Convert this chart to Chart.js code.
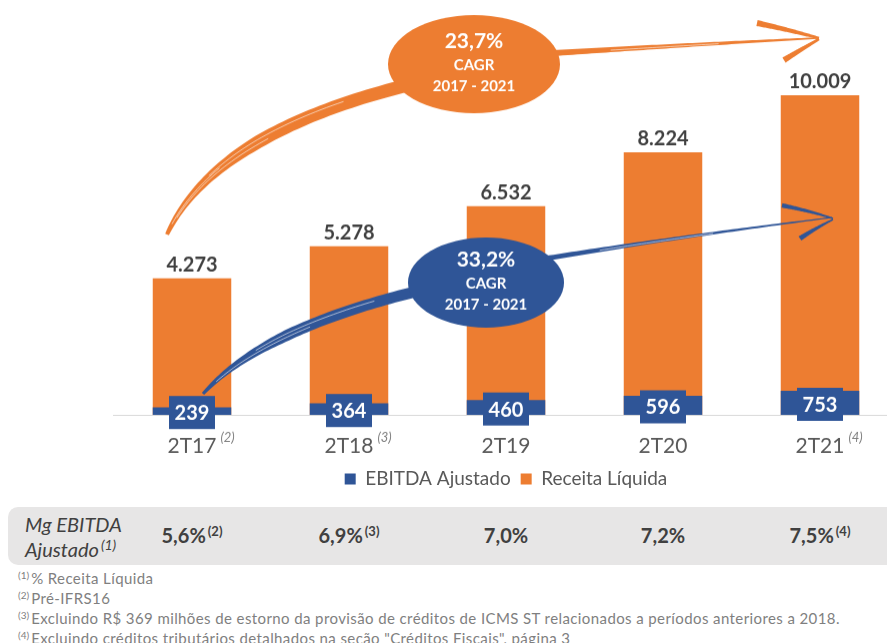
<!DOCTYPE html>
<html lang="pt-BR">
<head>
<meta charset="utf-8">
<script src="https://cdn.jsdelivr.net/npm/chart.js@4.4.0/dist/chart.umd.min.js"></script>
<style>
  html, body { margin: 0; padding: 0; background: #fff; overflow: hidden; width: 887px; height: 643px; font-family: Lato, sans-serif; }
  #chartBox { position: absolute; left: 0; top: 0; width: 910px; height: 497.5px; }
  #mgBox { position: absolute; left: 8px; top: 507px; width: 920px; height: 58px; background: #e7e6e6; border-radius: 10px; }
  .mgTitle { position: absolute; left: 17px; top: 5px; font-style: italic; font-size: 20px; line-height: 25px; color: #404040; white-space: nowrap; }
  .mgVal { position: absolute; top: 16px; font-weight: bold; font-size: 20px; line-height: 24px; color: #404040; transform: translateX(-50%); white-space: nowrap; }
  .sup { font-size: 13px; position: relative; top: -7px; margin-left: 2px; }
  .mgTitle .sup { font-size: 14px; }
  #notes { position: absolute; left: 18px; top: 569px; font-size: 15px; letter-spacing: 0.4px; line-height: 18px; color: #7f7f7f; white-space: nowrap; }
  #notes .fn { font-size: 10px; letter-spacing: 0; position: relative; top: -5px; margin-right: 2px; }
</style>
</head>
<body>
<div id="chartBox"><canvas id="grafico"></canvas></div>
<div id="mgBox">
  <div class="mgTitle">Mg EBITDA<br>Ajustado<span class="sup">(1)</span></div>
</div>
<div id="notes"></div>

<script>
// dados
const categorias = ['2T17', '2T18', '2T19', '2T20', '2T21'];
const notasEixo = ['(2)', '(3)', '', '', '(4)'];
const receitaLiquida = [4273, 5278, 6532, 8224, 10009];
const ebitdaAjustado = [239, 364, 460, 596, 753];
const margemEbitda = ['5,6%', '6,9%', '7,0%', '7,2%', '7,5%'];
const notasMargem = ['(2)', '(3)', '', '', '(4)'];
const cagrReceita = ['23,7%', 'CAGR', '2017 - 2021'];
const cagrEbitda = ['33,2%', 'CAGR', '2017 - 2021'];
const rodape = [
  ['(1)', '% Receita Líquida'],
  ['(2)', 'Pré-IFRS16'],
  ['(3)', 'Excluindo R$ 369 milhões de estorno da provisão de créditos de ICMS ST relacionados a períodos anteriores a 2018.'],
  ['(4)', 'Excluindo créditos tributários detalhados na seção "Créditos Fiscais", página 3']
];

const LARANJA = '#ED7D31';
const AZUL = '#2F5597';
const FONTE = 'Lato, sans-serif';
const TICK_PAD = 18.4;
const TICK_SIZE = 21;

function fmt(v) {
  return String(v).replace(/\B(?=(\d{3})+(?!\d))/g, '.');
}

// traço tipo pincel ao longo de uma curva quadrática
function pincel(ctx, p0, p1, p2, larg, cor, riscos) {
  const n = 60, L = [], R = [], C = [];
  for (let i = 0; i <= n; i++) {
    const t = i / n, u = 1 - t;
    const x = u * u * p0[0] + 2 * u * t * p1[0] + t * t * p2[0];
    const y = u * u * p0[1] + 2 * u * t * p1[1] + t * t * p2[1];
    const dx = 2 * u * (p1[0] - p0[0]) + 2 * t * (p2[0] - p1[0]);
    const dy = 2 * u * (p1[1] - p0[1]) + 2 * t * (p2[1] - p1[1]);
    const len = Math.hypot(dx, dy) || 1;
    const nx = -dy / len, ny = dx / len, h = larg(t) / 2;
    L.push([x + nx * h, y + ny * h]);
    R.push([x - nx * h, y - ny * h]);
    C.push([x, y, nx, ny, h]);
  }
  ctx.beginPath();
  L.forEach((p, i) => i ? ctx.lineTo(p[0], p[1]) : ctx.moveTo(p[0], p[1]));
  R.reverse().forEach(p => ctx.lineTo(p[0], p[1]));
  ctx.closePath();
  ctx.fillStyle = cor;
  ctx.fill();
  // riscos brancos finos para dar textura
  (riscos || []).forEach(r => {
    ctx.beginPath();
    for (let i = Math.round(r.a * n); i <= Math.round(r.b * n); i++) {
      const c = C[i];
      const x = c[0] + c[2] * c[4] * r.k, y = c[1] + c[3] * c[4] * r.k;
      i === Math.round(r.a * n) ? ctx.moveTo(x, y) : ctx.lineTo(x, y);
    }
    ctx.strokeStyle = 'rgba(255,255,255,0.75)';
    ctx.lineWidth = 0.8;
    ctx.stroke();
  });
}

function elipse(ctx, cx, cy, rx, ry, cor, linhas, ys) {
  ctx.beginPath();
  ctx.ellipse(cx, cy, rx, ry, 0, 0, Math.PI * 2);
  ctx.fillStyle = cor;
  ctx.fill();
  ctx.fillStyle = '#fff';
  ctx.textAlign = 'center';
  ctx.textBaseline = 'middle';
  linhas.forEach((txt, i) => {
    ctx.font = 'bold ' + (i === 0 ? 21 : 15) + 'px ' + FONTE;
    ctx.fillText(txt, cx, ys[i]);
  });
}

const decoracao = {
  id: 'decoracao',
  afterDatasetsDraw(chart) {
    const ctx = chart.ctx;
    ctx.save();

    // seta laranja (receita)
    pincel(ctx, [167, 234], [215, 130], [420, 82], t => 4 + 9 * Math.min(1, t * 2), LARANJA,
      [{a: 0.08, b: 0.55, k: 0.3}, {a: 0.3, b: 0.8, k: -0.35}, {a: 0.05, b: 0.35, k: -0.1}]);
    pincel(ctx, [553, 53], [700, 44], [817, 38], t => 6 - 4.5 * t, LARANJA, [{a: 0.2, b: 0.6, k: 0.2}]);
    pincel(ctx, [757, 23], [790, 30], [819, 38], t => 6 - 3.5 * t, LARANJA);
    pincel(ctx, [784, 60], [800, 50], [819, 39], t => 6 - 3.5 * t, LARANJA);
    elipse(ctx, 474, 64, 86, 49, LARANJA, cagrReceita, [41, 65, 86]);

    // seta azul (ebitda)
    pincel(ctx, [203, 393], [262, 328], [420, 290], t => 3 + 8 * Math.min(1, t * 2), AZUL,
      [{a: 0.1, b: 0.6, k: 0.3}, {a: 0.35, b: 0.85, k: -0.3}]);
    pincel(ctx, [545, 258], [680, 236], [832, 217], t => 5 - 4 * t, AZUL, [{a: 0.2, b: 0.6, k: 0.2}]);
    pincel(ctx, [782, 205], [808, 210], [833, 218], t => 4.5 - 3 * t, AZUL);
    pincel(ctx, [800, 238], [815, 228], [833, 219], t => 5 - 3.5 * t, AZUL);
    elipse(ctx, 486, 282, 78, 45, AZUL, cagrEbitda, [259, 283, 304]);

    // rótulos das barras de receita
    const metaR = chart.getDatasetMeta(1);
    ctx.fillStyle = '#404040';
    ctx.font = 'bold 20px ' + FONTE;
    ctx.textAlign = 'center';
    ctx.textBaseline = 'alphabetic';
    metaR.data.forEach((bar, i) => {
      ctx.fillText(fmt(receitaLiquida[i]), bar.x, bar.y - 7);
    });

    // caixas azuis com o EBITDA
    const metaE = chart.getDatasetMeta(0);
    ctx.textBaseline = 'middle';
    metaE.data.forEach((bar, i) => {
      const cy = (bar.y + bar.base) / 2 + 1.5;
      ctx.fillStyle = AZUL;
      ctx.fillRect(bar.x - 23, cy - 16.5, 46, 33);
      ctx.fillStyle = '#fff';
      ctx.fillText(fmt(ebitdaAjustado[i]), bar.x, cy + 1);
    });
    ctx.restore();
  },
  afterDraw(chart) {
    // notas sobrescritas nos rótulos do eixo x
    const ctx = chart.ctx, x = chart.scales.x;
    const yLab = x.top + TICK_PAD + TICK_SIZE * 1.2 / 2;
    ctx.save();
    categorias.forEach((c, i) => {
      if (!notasEixo[i]) return;
      ctx.font = TICK_SIZE + 'px ' + FONTE;
      const w = ctx.measureText(c).width;
      ctx.font = 'italic 13px ' + FONTE;
      ctx.fillStyle = '#7f7f7f';
      ctx.textAlign = 'left';
      ctx.textBaseline = 'middle';
      ctx.fillText(notasEixo[i], x.getPixelForValue(i) + w / 2 + 4, yLab - 8);
    });
    ctx.restore();
  }
};

const grafico = new Chart(document.getElementById('grafico'), {
  type: 'bar',
  data: {
    labels: categorias,
    datasets: [
      {
        label: 'EBITDA Ajustado',
        data: ebitdaAjustado,
        backgroundColor: AZUL,
        grouped: false,
        barPercentage: 0.5,
        categoryPercentage: 1
      },
      {
        label: 'Receita Líquida',
        data: receitaLiquida,
        backgroundColor: LARANJA,
        grouped: false,
        barPercentage: 0.5,
        categoryPercentage: 1
      }
    ]
  },
  options: {
    responsive: true,
    maintainAspectRatio: false,
    animation: false,
    layout: { padding: { left: 113.5, right: 11.5, top: 63.4, bottom: 0 } },
    plugins: {
      legend: {
        position: 'bottom',
        labels: { color: '#595959', font: { family: FONTE, size: 19 }, boxWidth: 11, boxHeight: 11, padding: 10 }
      },
      tooltip: { enabled: false }
    },
    scales: {
      x: {
        grid: { display: false, drawTicks: false },
        border: { display: true, color: '#d9d9d9', width: 1 },
        ticks: { color: '#595959', font: { family: FONTE, size: TICK_SIZE }, padding: TICK_PAD },
        afterFit(scale) { scale.height = 44.5; }
      },
      y: { display: false, min: 0, max: 11000 }
    }
  },
  plugins: [decoracao]
});

// linha da margem EBITDA alinhada às categorias
const caixa = document.getElementById('mgBox');
margemEbitda.forEach((m, i) => {
  const d = document.createElement('div');
  d.className = 'mgVal';
  d.style.left = (grafico.scales.x.getPixelForValue(i) - 8) + 'px';
  d.innerHTML = m + (notasMargem[i] ? '<span class="sup">' + notasMargem[i] + '</span>' : '');
  caixa.appendChild(d);
});

// notas de rodapé
const notas = document.getElementById('notes');
rodape.forEach(r => {
  const d = document.createElement('div');
  d.innerHTML = '<span class="fn">' + r[0] + '</span>' + r[1];
  notas.appendChild(d);
});
</script>
</body>
</html>
